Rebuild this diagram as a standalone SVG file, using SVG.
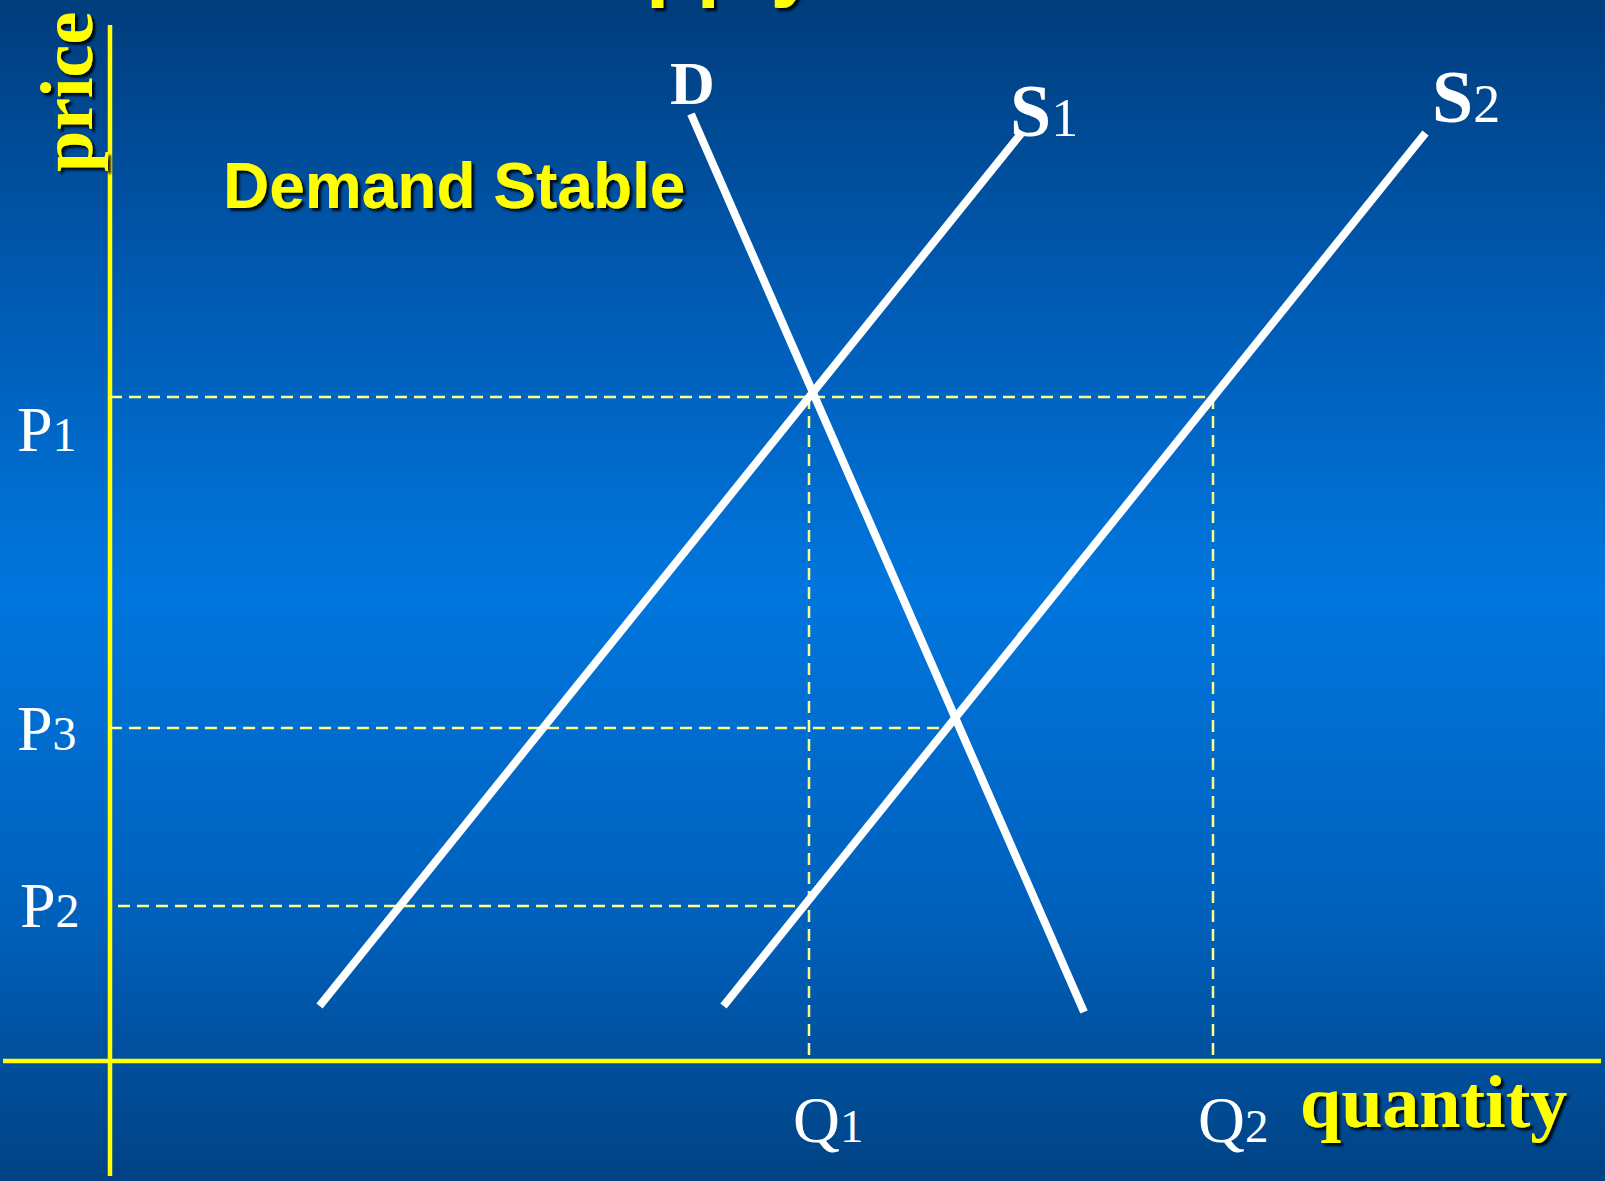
<svg xmlns="http://www.w3.org/2000/svg" width="1605" height="1181" viewBox="0 0 1605 1181">
  <defs>
    <linearGradient id="bg" x1="0" y1="0" x2="0" y2="1">
      <stop offset="0" stop-color="#003d7c"/>
      <stop offset="0.22" stop-color="#0057ad"/>
      <stop offset="0.5" stop-color="#0076de"/>
      <stop offset="0.78" stop-color="#0060bb"/>
      <stop offset="1" stop-color="#004283"/>
    </linearGradient>
    <filter id="sh" x="-10%" y="-20%" width="130%" height="150%">
      <feDropShadow dx="3" dy="3" stdDeviation="1.2" flood-color="#000" flood-opacity="0.85"/>
    </filter>
    <style>
      .axis { stroke: #ffff00; stroke-width: 4.5; fill: none; }
      .curve { stroke: #ffffff; stroke-width: 8; fill: none; stroke-linecap: butt; }
      .guide { stroke: #ffff8c; stroke-width: 2.5; fill: none; stroke-dasharray: 12 7; }
      .ylab { fill: #ffff00; font-family: "Liberation Serif", "Times New Roman", serif; font-weight: bold; font-size: 74px; }
      .ysans { fill: #ffff00; font-family: "Liberation Sans", Arial, sans-serif; font-weight: bold; }
      .wbold { fill: #ffffff; font-family: "Liberation Serif", "Times New Roman", serif; font-weight: bold; }
      .wreg { fill: #ffffff; font-family: "Liberation Serif", "Times New Roman", serif; }
      .sub { font-weight: normal; }
    </style>
  </defs>

  <rect x="0" y="0" width="1605" height="1181" fill="url(#bg)"/>

  <g id="title" filter="url(#sh)">
    <text class="ysans" x="540" y="-9" font-size="83">Supply</text>
  </g>

  <g id="axes">
    <line class="axis" x1="110" y1="25" x2="110" y2="1176"/>
    <line class="axis" x1="3" y1="1061" x2="1601" y2="1061"/>
  </g>

  <g id="connectors">
    <line class="guide" x1="110" y1="397" x2="1213" y2="397"/>
    <line class="guide" x1="110" y1="728" x2="945" y2="728"/>
    <line class="guide" x1="118" y1="906" x2="808" y2="906"/>
    <line class="guide" x1="809" y1="397" x2="809" y2="1060"/>
    <line class="guide" x1="1213" y1="397" x2="1213" y2="1060"/>
  </g>

  <g id="curve-D">
    <line class="curve" x1="691" y1="114" x2="1084" y2="1012"/>
    <text class="wbold" x="670" y="104" font-size="62">D</text>
  </g>
  <g id="curve-S1">
    <line class="curve" x1="319.5" y1="1006" x2="1021.5" y2="133"/>
    <text class="wbold" x="1010" y="136" font-size="74">S<tspan class="sub" font-size="54">1</tspan></text>
  </g>
  <g id="curve-S2">
    <line class="curve" x1="723.5" y1="1006" x2="1425.5" y2="133"/>
    <text class="wbold" x="1432" y="122" font-size="74">S<tspan class="sub" font-size="54">2</tspan></text>
  </g>

  <g id="price-labels">
    <text class="wreg" x="17" y="451" font-size="64">P<tspan font-size="48">1</tspan></text>
    <text class="wreg" x="17" y="750" font-size="64">P<tspan font-size="48">3</tspan></text>
    <text class="wreg" x="20" y="927" font-size="64">P<tspan font-size="48">2</tspan></text>
  </g>

  <g id="quantity-labels">
    <text class="wreg" x="793" y="1142" font-size="65">Q<tspan font-size="47">1</tspan></text>
    <text class="wreg" x="1198" y="1142" font-size="65">Q<tspan font-size="47">2</tspan></text>
  </g>

  <g id="axis-price" filter="url(#sh)">
    <text class="ylab" transform="translate(92,172) rotate(-90)" x="0" y="0">price</text>
  </g>
  <g id="axis-quantity" filter="url(#sh)">
    <text class="ylab" x="1300" y="1127">quantity</text>
  </g>
  <g id="note" filter="url(#sh)">
    <text class="ysans" x="223" y="208" font-size="64">Demand Stable</text>
  </g>
</svg>
